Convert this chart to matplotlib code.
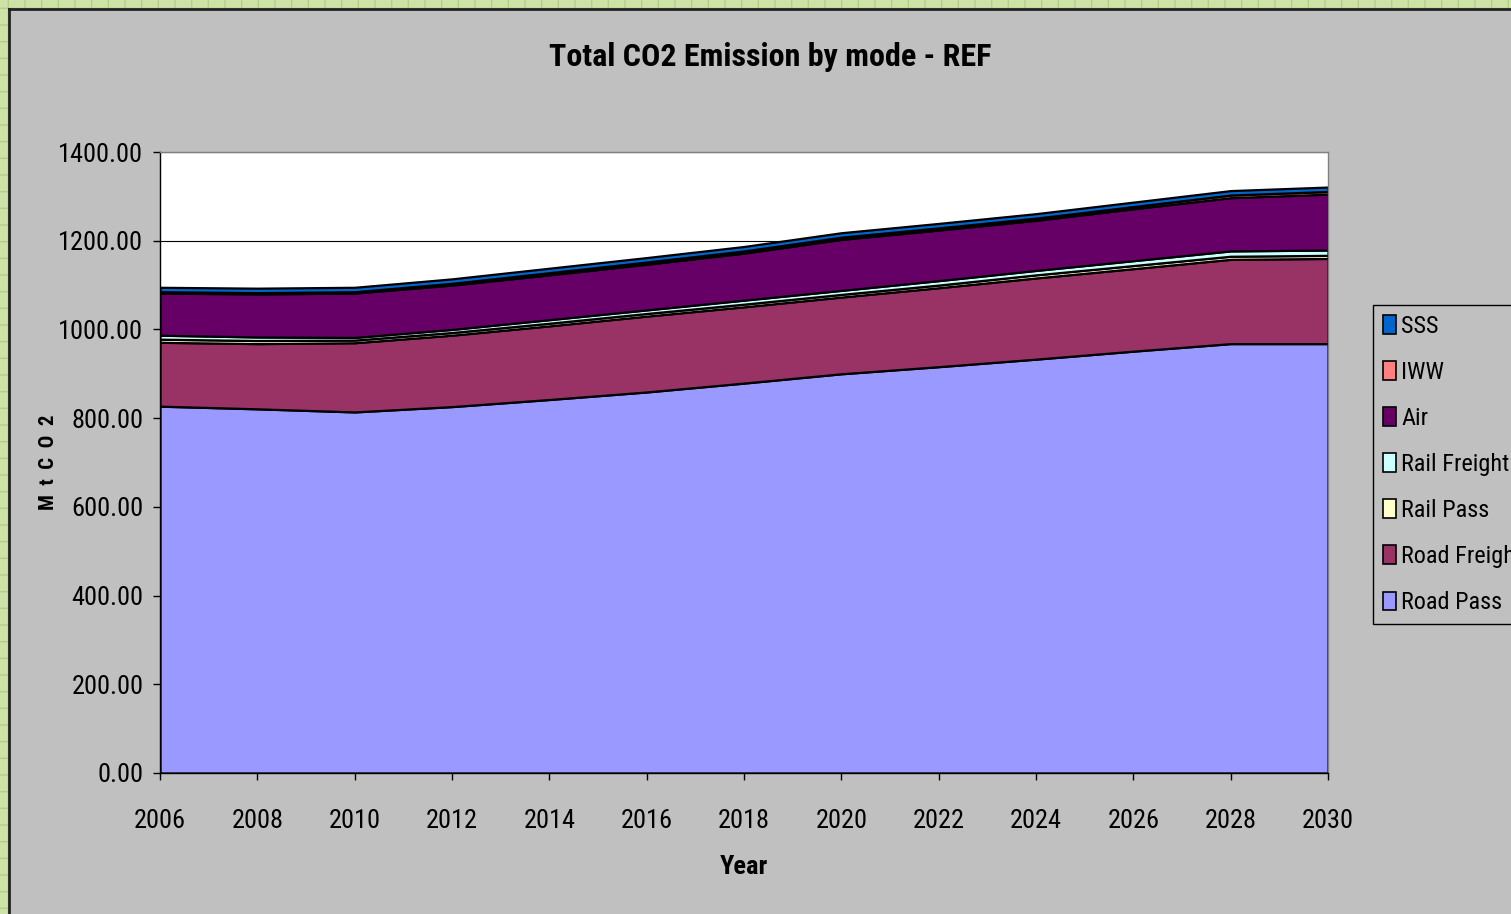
import matplotlib
matplotlib.use("Agg")
import matplotlib.pyplot as plt
from matplotlib import font_manager
from matplotlib.patches import Rectangle, Patch
from matplotlib.lines import Line2D

# ---- data (MtCO2) ----
years = [2006, 2008, 2010, 2012, 2014, 2016, 2018, 2020, 2022, 2024, 2026, 2028, 2030]
road_pass = [827, 821, 814, 826, 842, 859, 879, 900, 916, 933, 951, 968, 968]
road_freight = [144, 147, 156, 161, 166, 171, 172, 173, 178, 183, 186, 190, 192]
rail_pass = [7, 7, 6, 6, 6, 6, 6, 6, 6, 7, 7, 7, 7]
rail_freight = [9, 8, 6, 7, 8, 8, 9, 9, 10, 10, 11, 12, 12]
air = [95, 97, 100, 100, 101, 103, 106, 115, 114, 113, 117, 120, 126]
iww = [3, 3, 3, 4, 5, 5, 5, 5, 5, 5, 5, 6, 6]
sss = [10, 10, 10, 10, 10, 10, 10, 10, 10, 10, 10, 10, 10]

labels = ["Road Pass", "Road Freight", "Rail Pass", "Rail Freight", "Air", "IWW", "SSS"]
colours = ["#9999FF", "#993366", "#FFFFCC", "#CCFFFF", "#660066", "#FF8080", "#0066CC"]
yticks = [0, 200, 400, 600, 800, 1000, 1200, 1400]

# look for a narrow face, else fall back to Liberation Sans
installed = set(f.name for f in font_manager.fontManager.ttflist)
narrow = [n for n in ["Liberation Sans Narrow", "DejaVu Sans Condensed", "Roboto Condensed",
                      "Open Sans Condensed", "Noto Sans Condensed"] if n in installed]
FONT = narrow[:1] + ["Liberation Sans", "DejaVu Sans"]
plt.rcParams["font.family"] = FONT

W, H = 1511, 914
fig = plt.figure(figsize=(W / 100, H / 100), dpi=100)
fig.patch.set_facecolor("#cfe3a8")

# green patterned frame + gray chart area
fig.patches.append(Rectangle((0, 0), 1, 1, transform=fig.transFigure,
                             facecolor="#cfe3a8", edgecolor="#b3cf86",
                             hatch="+", linewidth=0, zorder=-3))
fig.patches.append(Rectangle((9 / W, 0), 1 - 9 / W, 1 - 9 / H, transform=fig.transFigure,
                             facecolor="#c0c0c0", edgecolor="none", zorder=-2))
fig.lines.append(Line2D([8.5 / W, 8.5 / W], [0, 1 - 8.5 / H], transform=fig.transFigure,
                        color="#222222", linewidth=2))
fig.lines.append(Line2D([8.5 / W, 1], [1 - 8.5 / H, 1 - 8.5 / H], transform=fig.transFigure,
                        color="#222222", linewidth=2))

ax = fig.add_axes([160 / W, 1 - 773 / H, (1328 - 160) / W, (773 - 152) / H])
ax.set_facecolor("white")

series = [road_pass, road_freight, rail_pass, rail_freight, air, iww, sss]
ax.stackplot(years, *series, colors=colours, edgecolor="black", linewidth=1.6, zorder=2)

ax.set_xlim(2006, 2030)
ax.set_ylim(0, 1400)
ax.set_xticks(years)
ax.set_yticks(yticks)
ax.set_yticklabels(["%.2f" % v for v in yticks])
ax.yaxis.grid(True, color="black", linewidth=0.8, zorder=1)
ax.set_axisbelow(True)

if narrow:
    tick_size, leg_size, title_size, lab_size = 19, 17.5, 23, 19
else:
    tick_size, leg_size, title_size, lab_size = 16, 14, 19, 17

ax.tick_params(axis="both", direction="out", length=5, width=1, color="black",
               labelsize=tick_size)
ax.tick_params(axis="x", pad=21)
ax.tick_params(axis="y", pad=7)
for s in ["left", "bottom"]:
    ax.spines[s].set_color("black")
    ax.spines[s].set_linewidth(1)
for s in ["top", "right"]:
    ax.spines[s].set_color("#808080")
    ax.spines[s].set_linewidth(1)

ax.set_xlabel("Year", fontsize=lab_size, fontweight="bold")
ax.xaxis.set_label_coords(0.5, (773 - 855) / 621)
ax.set_ylabel("M  t  C  O  2", fontsize=15, fontweight="bold")
ax.yaxis.set_label_coords((58 - 160) / 1168, 0.5)

fig.text(770 / W, 1 - 57 / H, "Total CO2 Emission by mode - REF",
         ha="center", va="center", fontsize=title_size, fontweight="bold")

# legend (reverse order)
handles = [Patch(facecolor=c, edgecolor="black", linewidth=1.2) for c in colours]
leg = fig.legend(handles[::-1], labels[::-1], loc="upper left",
                 bbox_to_anchor=(1373 / W, 1 - 305 / H), fontsize=leg_size,
                 frameon=True, fancybox=False, handlelength=0.55, handleheight=0.8,
                 handletextpad=0.2, labelspacing=0.95 if narrow else 1.2,
                 borderpad=0.4, borderaxespad=0)
leg.get_frame().set_facecolor("#c0c0c0")
leg.get_frame().set_edgecolor("black")
leg.get_frame().set_linewidth(1)
leg.get_frame().set_alpha(1)

fig.savefig("out.png", dpi=100, facecolor=fig.get_facecolor())
